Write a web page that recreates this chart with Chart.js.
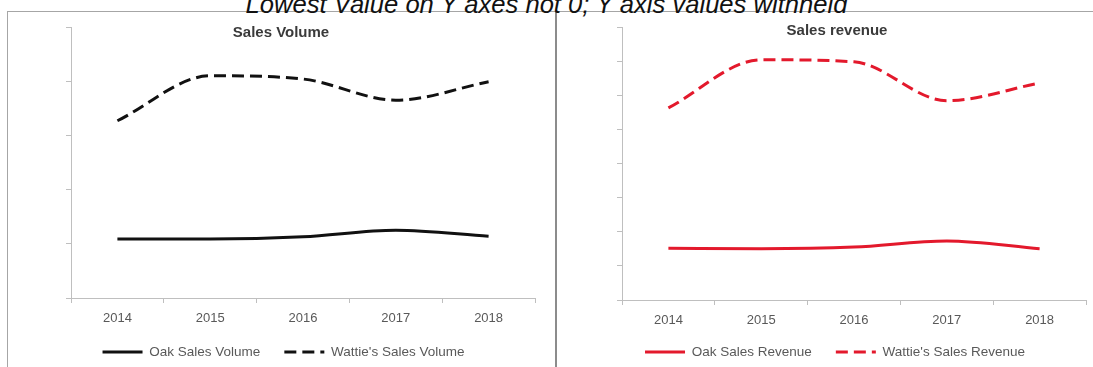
<!DOCTYPE html>
<html>
<head>
<meta charset="utf-8">
<script src="https://cdn.jsdelivr.net/npm/chart.js@4.4.1/dist/chart.umd.min.js"></script>
<style>
  html, body { margin: 0; padding: 0; background: #fff; }
  body { width: 1093px; height: 367px; overflow: hidden; position: relative; }
  .heading {
    position: absolute; left: 0; width: 1093px; top: -10px;
    text-align: center; font: italic 25.6px "Liberation Sans", Arial, sans-serif; color: #111;
  }
  .panel { position: absolute; top: 11px; height: 360px; border-top: 1px solid #a6a6a6; }
  #leftPanel { left: 7px; width: 547px; border-left: 1px solid #a6a6a6; border-right: 2px solid #8c8c8c; }
  #rightPanel { left: 556px; width: 560px; }
  .box { position: absolute; top: 12px; height: 355px; }
  #volumeBox { left: 8px; width: 546px; }
  #revenueBox { left: 557px; width: 560px; }
</style>
</head>
<body>
<div class="panel" id="leftPanel"></div>
<div class="panel" id="rightPanel"></div>
<div class="heading">Lowest Value on Y axes not 0; Y axis values withheld</div>
<div class="box" id="volumeBox"><canvas id="volumeChart"></canvas></div>
<div class="box" id="revenueBox"><canvas id="revenueChart"></canvas></div>
<script>
const years = ['2014', '2015', '2016', '2017', '2018'];

const oakVolume = [30.9, 30.9, 31.3, 32.5, 31.4];
const wattiesVolume = [52.7, 61.0, 60.4, 56.5, 59.9];
const volumeTicks = [20, 70, 10];   // min, max, step (labels hidden)

const oakRevenue = [252, 250, 255, 273, 250];
const wattiesRevenue = [663, 804, 798, 684, 736];
const revenueTicks = [100, 900, 100];

const FONT = '"Liberation Sans", Arial, sans-serif';
const AXIS_GREY = '#bfbfbf';

// chart heading drawn inside the plot area, centred on the whole canvas
const panelTitle = {
    id: 'panelTitle',
    afterDraw(chart, args, opts) {
        const ctx = chart.ctx;
        ctx.save();
        ctx.font = 'bold 15px ' + FONT;
        ctx.fillStyle = '#3a3a3a';
        ctx.textAlign = 'center';
        ctx.textBaseline = 'middle';
        ctx.fillText(opts.text, chart.width / 2, opts.y);
        ctx.restore();
    }
};

// legend padding also spaces the items apart, so pull the row back up a bit
const legendLift = {
    id: 'legendLift',
    afterLayout(chart, args, opts) {
        if (chart.legend) {
            chart.legend.top -= opts.shift;
            chart.legend.bottom -= opts.shift;
        }
    }
};

// legend samples: the point style drops the dash, so copy it back from the dataset
function legendLabels(chart) {
    const items = Chart.defaults.plugins.legend.labels.generateLabels(chart);
    items.forEach(item => {
        const ds = chart.data.datasets[item.datasetIndex];
        item.lineDash = ds.borderDash || [];
        item.lineWidth = ds.borderWidth;
        item.strokeStyle = ds.borderColor;
    });
    return items;
}

function makeChart(id, title, titleY, names, values, colour, ticks, pad, yWidth, xHeight) {
    const ctx = document.getElementById(id).getContext('2d');
    return new Chart(ctx, {
        type: 'line',
        data: {
            labels: years,
            datasets: [{
                label: names[0],
                data: values[0],
                borderColor: colour,
                backgroundColor: colour,
                borderWidth: 3,
                pointRadius: 0,
                pointStyle: 'line',
                cubicInterpolationMode: 'monotone'
            }, {
                label: names[1],
                data: values[1],
                borderColor: colour,
                backgroundColor: colour,
                borderWidth: 3,
                borderDash: [12, 6],
                pointRadius: 0,
                pointStyle: 'line',
                cubicInterpolationMode: 'monotone'
            }]
        },
        options: {
            responsive: true,
            maintainAspectRatio: false,
            animation: false,
            events: [],
            layout: { padding: pad },
            plugins: {
                tooltip: { enabled: false },
                panelTitle: { text: title, y: titleY },
                legendLift: { shift: 6.75 },
                legend: {
                    position: 'bottom',
                    labels: {
                        usePointStyle: true,
                        pointStyleWidth: 40,
                        boxHeight: 13.5,
                        padding: 24,
                        color: '#595959',
                        font: { family: FONT, size: 13.5 },
                        generateLabels: legendLabels
                    }
                }
            },
            scales: {
                x: {
                    offset: true,
                    border: { color: AXIS_GREY },
                    grid: { offset: true, drawOnChartArea: false, tickLength: 5, color: AXIS_GREY },
                    ticks: { padding: 8, color: '#595959', font: { family: FONT, size: 13 } },
                    afterFit(scale) { scale.height = xHeight; }
                },
                y: {
                    min: ticks[0],
                    max: ticks[1],
                    border: { color: AXIS_GREY },
                    grid: { drawOnChartArea: false, tickLength: 5, color: AXIS_GREY },
                    ticks: { stepSize: ticks[2], display: false },
                    afterFit(scale) { scale.width = yWidth; }
                }
            }
        },
        plugins: [panelTitle, legendLift]
    });
}

makeChart('volumeChart', 'Sales Volume', 21,
    ["Oak Sales Volume", "Wattie's Sales Volume"],
    [oakVolume, wattiesVolume], '#111111', volumeTicks,
    { top: 15, right: 19, bottom: -8.5, left: 24 }, 39, 30);

makeChart('revenueChart', 'Sales revenue', 19,
    ["Oak Sales Revenue", "Wattie's Sales Revenue"],
    [oakRevenue, wattiesRevenue], '#e3192c', revenueTicks,
    { top: 15, right: 31, bottom: -8.5, left: 27 }, 38, 28);
</script>
</body>
</html>
